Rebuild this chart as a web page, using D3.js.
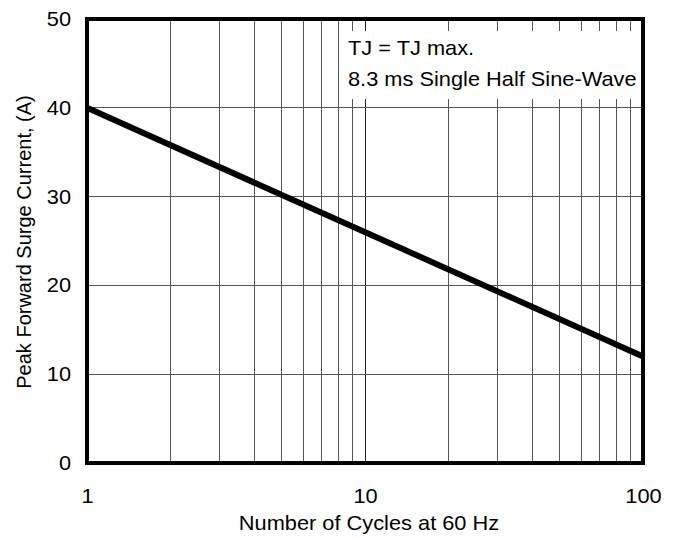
<!DOCTYPE html>
<html><head><meta charset="utf-8">
<script src="https://cdn.jsdelivr.net/npm/d3@7"></script>
<style>body{margin:0;background:#fff}svg{display:block}text{font-family:"Liberation Sans",Arial,sans-serif;fill:#000}</style>
</head><body>
<svg id="c" width="678" height="540"></svg>
<script>
const cycles = [1, 100];
const current = [40, 12];
const xTicks = [1, 10, 100];
const yTicks = [0, 10, 20, 30, 40, 50];
const xMinor = [2,3,4,5,6,7,8,9,20,30,40,50,60,70,80,90];
const notes = ["TJ = TJ max.", "8.3 ms Single Half Sine-Wave"];

const svg = d3.select("#c");
const L = 87, R = 643, T = 19, B = 463;
const SX = 1.09;
const x = d3.scaleLog().domain([1, 100]).range([L, R]);
const y = d3.scaleLinear().domain([0, 50]).range([B, T]);

const g = svg.append("g");
// grid
g.selectAll(".vx").data(xMinor.concat([10])).join("line")
  .attr("x1", d => x(d)).attr("x2", d => x(d)).attr("y1", T).attr("y2", B)
  .attr("stroke", d => d === 10 ? "#222" : "#555").attr("stroke-width", 1).attr("shape-rendering","crispEdges");
g.selectAll(".hy").data(yTicks.slice(1, -1)).join("line")
  .attr("x1", L).attr("x2", R).attr("y1", d => y(d)).attr("y2", d => y(d))
  .attr("stroke", "#555").attr("stroke-width", 1).attr("shape-rendering","crispEdges");

// annotation box
g.append("rect").attr("x", 342).attr("y", 31).attr("width", R - 3 - 342).attr("height", 68).attr("fill", "#fff");
g.selectAll(".note").data(notes).join("text")
  .attr("transform", (d, i) => `translate(348,${55 + i * 31}) scale(${SX},1)`)
  .attr("font-size", 20).text(d => d);

// curve
const line = d3.line().x(d => x(d[0])).y(d => y(d[1]));
g.append("path").datum(cycles.map((c, i) => [c, current[i]]))
  .attr("d", line).attr("fill", "none").attr("stroke", "#000").attr("stroke-width", 6);

// frame
g.append("rect").attr("x", L).attr("y", T).attr("width", R - L).attr("height", B - T)
  .attr("fill", "none").attr("stroke", "#000").attr("stroke-width", 4);

// axes
const xa = svg.append("g").attr("transform", `translate(0,${B})`)
  .call(d3.axisBottom(x).tickValues(xTicks).tickFormat(d3.format("d")).tickSize(0).tickPadding(26));
const ya = svg.append("g").attr("transform", `translate(${L},0)`)
  .call(d3.axisLeft(y).tickValues(yTicks).tickSize(0).tickPadding(16));
[xa, ya].forEach(a => { a.select(".domain").remove(); a.selectAll("text").attr("font-size", 20).attr("font-family", null); });
xa.selectAll("text").attr("transform", `scale(${SX},1)`);
ya.selectAll(".tick text").attr("x", -16 / SX).attr("transform", `scale(${SX},1)`);

svg.append("text").attr("transform", `translate(${x(10) + 4},530) scale(${SX},1)`).attr("text-anchor", "middle").attr("font-size", 20)
  .text("Number of Cycles at 60 Hz");
svg.append("text").attr("transform", "translate(31,242) rotate(-90)").attr("text-anchor", "middle").attr("font-size", 20)
  .text("Peak Forward Surge Current, (A)");
</script>
</body></html>
